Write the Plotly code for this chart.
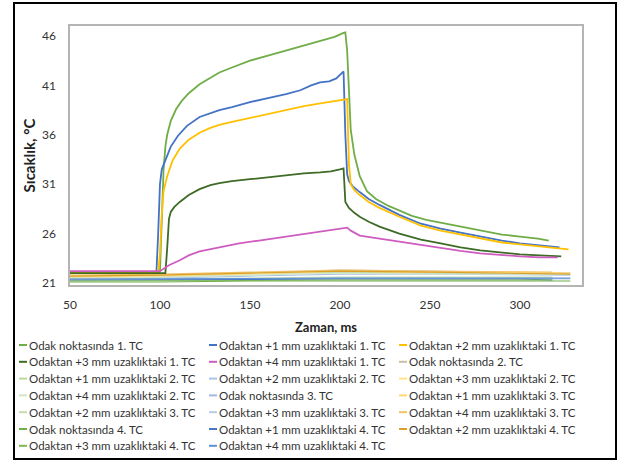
import plotly.graph_objects as go

# ---------------- data ----------------
names = [
    "Odak noktasında 1. TC", "Odaktan +1 mm uzaklıktaki 1. TC", "Odaktan +2 mm uzaklıktaki 1. TC",
    "Odaktan +3 mm uzaklıktaki 1. TC", "Odaktan +4 mm uzaklıktaki 1. TC", "Odak noktasında 2. TC",
    "Odaktan +1 mm uzaklıktaki 2. TC", "Odaktan +2 mm uzaklıktaki 2. TC", "Odaktan +3 mm uzaklıktaki 2. TC",
    "Odaktan +4 mm uzaklıktaki 2. TC", "Odak noktasında 3. TC", "Odaktan +1 mm uzaklıktaki 3. TC",
    "Odaktan +2 mm uzaklıktaki 3. TC", "Odaktan +3 mm uzaklıktaki 3. TC", "Odaktan +4 mm uzaklıktaki 3. TC",
    "Odak noktasında 4. TC", "Odaktan +1 mm uzaklıktaki 4. TC", "Odaktan +2 mm uzaklıktaki 4. TC",
    "Odaktan +3 mm uzaklıktaki 4. TC", "Odaktan +4 mm uzaklıktaki 4. TC",
]

t_odak1 = [50, 99, 100, 101, 102, 103, 104, 106, 109, 112, 116, 122, 128, 133, 140, 150, 160, 170, 180,
           190, 197, 202, 203, 204, 205, 206, 208, 211, 215, 220, 227, 233, 240, 248, 256, 265, 278, 290,
           300, 310, 316]
v_odak1 = [22.0, 22.0, 22.2, 27.5, 32.5, 34.8, 36.0, 37.4, 38.6, 39.4, 40.2, 41.1, 41.8, 42.3, 42.8, 43.5,
           44.0, 44.5, 45.0, 45.5, 45.9, 46.3, 46.35, 44.5, 40.0, 36.5, 34.0, 31.8, 30.3, 29.5, 28.8, 28.3,
           27.8, 27.4, 27.1, 26.8, 26.3, 25.9, 25.7, 25.5, 25.3]

t_p1_1 = [50, 98, 99, 100, 101, 103, 106, 110, 115, 122, 128, 133, 140, 150, 160, 170, 178, 184, 189, 194,
          198, 201, 202, 203, 204, 205, 207, 211, 216, 222, 233, 245, 256, 267, 278, 290, 300, 310, 322]
v_p1_1 = [22.0, 22.0, 26.0, 31.0, 32.5, 33.5, 34.8, 35.9, 36.9, 37.8, 38.2, 38.5, 38.8, 39.3, 39.7, 40.1,
          40.5, 41.0, 41.3, 41.4, 41.7, 42.2, 42.4, 36.0, 32.0, 31.3, 30.8, 30.2, 29.5, 28.9, 27.9, 27.0,
          26.5, 26.1, 25.7, 25.3, 25.0, 24.8, 24.6]

t_p2_1 = [50, 99, 100, 101, 102, 104, 107, 111, 116, 122, 128, 133, 140, 150, 160, 170, 180, 190, 198, 203,
          204, 205, 206, 208, 211, 216, 222, 233, 245, 256, 267, 278, 290, 300, 310, 320, 327]
v_p2_1 = [22.1, 22.1, 24.0, 28.0, 30.3, 31.8, 33.4, 34.6, 35.5, 36.2, 36.7, 37.0, 37.3, 37.7, 38.1, 38.5,
          38.9, 39.2, 39.45, 39.6, 39.6, 33.0, 31.0, 30.4, 29.9, 29.2, 28.6, 27.7, 26.8, 26.3, 25.9, 25.5,
          25.1, 24.9, 24.7, 24.5, 24.4]

t_p3_1 = [50, 103, 104, 105, 106, 108, 111, 116, 122, 128, 133, 140, 150, 160, 170, 180, 189, 195, 200, 202,
          203, 205, 208, 211, 216, 222, 233, 245, 256, 267, 278, 290, 300, 311, 323]
v_p3_1 = [22.0, 22.0, 24.5, 27.5, 28.2, 28.7, 29.2, 29.9, 30.5, 30.9, 31.1, 31.3, 31.5, 31.7, 31.9, 32.1,
          32.2, 32.3, 32.5, 32.6, 29.2, 28.6, 28.1, 27.7, 27.2, 26.7, 26.0, 25.4, 25.0, 24.6, 24.3, 24.1,
          23.9, 23.8, 23.7]

t_p4_1 = [50, 100, 105, 111, 116, 122, 133, 144, 155, 167, 178, 189, 198, 204, 206, 211, 222, 233, 245, 256,
          267, 278, 290, 300, 311, 321]
v_p4_1 = [22.2, 22.2, 22.8, 23.3, 23.8, 24.2, 24.6, 25.0, 25.3, 25.6, 25.9, 26.2, 26.45, 26.6, 26.3, 25.8,
          25.5, 25.2, 24.8, 24.5, 24.25, 24.0, 23.8, 23.7, 23.6, 23.6]

# low-lying thermocouples (2., 3., 4. TC)
t_low_a = [50, 100, 150, 200, 250, 300, 328]
t_low_b = [50, 100, 150, 200, 250, 300, 318]
v_odak2 = [21.6, 21.7, 22.0, 22.3, 22.2, 22.1, 22.0]
v_p1_2 = [21.5, 21.6, 21.9, 22.1, 22.0, 21.9, 21.9]
v_p2_2 = [21.4, 21.5, 21.7, 21.9, 21.9, 21.8, 21.8]
v_p3_2 = [21.6, 21.7, 21.9, 22.2, 22.1, 22.0, 22.0]
v_p4_2 = [21.5, 21.6, 21.8, 22.0, 21.9, 21.9, 21.9]
v_odak3 = [21.3, 21.3, 21.4, 21.5, 21.5, 21.5, 21.5]
v_p1_3 = [21.7, 21.8, 22.0, 22.2, 22.1, 22.1, 22.0]
v_p2_3 = [21.4, 21.4, 21.5, 21.6, 21.6, 21.6, 21.6]
v_p3_3 = [21.3, 21.3, 21.35, 21.4, 21.4, 21.4, 21.4]
v_p4_3 = [21.8, 21.9, 22.1, 22.3, 22.2, 22.1, 22.1]
v_odak4 = [21.1, 21.1, 21.2, 21.2, 21.2, 21.2, 21.2]
v_p1_4 = [21.3, 21.3, 21.35, 21.4, 21.4, 21.4, 21.3]
v_p2_4 = [21.7, 21.8, 22.0, 22.2, 22.1, 22.0, 21.9]
v_p3_4 = [21.2, 21.2, 21.25, 21.3, 21.3, 21.3, 21.3]
v_p4_4 = [21.4, 21.4, 21.45, 21.5, 21.5, 21.5, 21.5]

x_ticks = [50, 100, 150, 200, 250, 300]
y_ticks = [21, 26, 31, 36, 41, 46]

series_x = [t_odak1, t_p1_1, t_p2_1, t_p3_1, t_p4_1,
            t_low_a, t_low_b, t_low_a, t_low_b, t_low_a,
            t_low_b, t_low_a, t_low_b, t_low_a, t_low_b,
            t_low_a, t_low_b, t_low_a, t_low_b, t_low_a]
series_y = [v_odak1, v_p1_1, v_p2_1, v_p3_1, v_p4_1,
            v_odak2, v_p1_2, v_p2_2, v_p3_2, v_p4_2,
            v_odak3, v_p1_3, v_p2_3, v_p3_3, v_p4_3,
            v_odak4, v_p1_4, v_p2_4, v_p3_4, v_p4_4]

colors = ["#70AD47", "#4472C4", "#FFC000", "#3E6B25", "#CF5CC0",
          "#C9BFA8", "#B7D8A0", "#A9C4E8", "#FFE38A", "#D5E5C8",
          "#9FB7E2", "#FFD870", "#C3DDB0", "#B8CBEA", "#F2C26B",
          "#6FAE4A", "#4A78C8", "#D9A02A", "#7CB655", "#5B8FD6"]
widths = [1.8] * 5 + [1.1] * 15

# ---------------- figure ----------------
W, H = 624, 462
L, R, T, B = 70, 582, 26, 285


def xp(px):
    return (px - L) / (R - L)


def yp(py):
    return (B - py) / (B - T)


fig = go.Figure()
order = list(range(5, 20)) + list(range(0, 5))
for i in order:
    fig.add_trace(go.Scatter(x=series_x[i], y=series_y[i], mode="lines", name=names[i],
                             line=dict(color=colors[i], width=widths[i]), showlegend=False))

shapes = [dict(type="rect", xref="paper", yref="paper", x0=xp(14), x1=xp(616), y0=yp(459), y1=yp(3),
               line=dict(color="black", width=2), layer="below")]
annotations = []
col_x = [19, 209, 399]
row0, row_dy = 345, 16.8
for k, nm in enumerate(names):
    r, c = divmod(k, 3)
    y = row0 + r * row_dy
    shapes.append(dict(type="line", xref="paper", yref="paper", x0=xp(col_x[c]), x1=xp(col_x[c] + 8),
                       y0=yp(y), y1=yp(y), line=dict(color=colors[k], width=2)))
    annotations.append(dict(xref="paper", yref="paper", x=xp(col_x[c] + 8), y=yp(y), text=nm,
                            showarrow=False, xanchor="left", yanchor="middle",
                            font=dict(family="Lato", size=11.5, color="#333333")))

axis_common = dict(showgrid=False, zeroline=False, showline=True, mirror=True, linecolor="#B4B4B4",
                   linewidth=1.5, ticks="", tickfont=dict(family="Lato", size=12, color="#333333"))

fig.update_layout(
    width=W, height=H, margin=dict(l=L, r=W - R, t=T, b=H - B, autoexpand=False),
    paper_bgcolor="white", plot_bgcolor="white", showlegend=False,
    xaxis=dict(range=[50, 334.5], tickvals=x_ticks, ticklabelstandoff=8,
               title=dict(text="<b>Zaman, ms</b>", standoff=12,
                          font=dict(family="Lato", size=13, color="#222222")), **axis_common),
    yaxis=dict(range=[20.8, 47.0], tickvals=y_ticks, ticklabelstandoff=10,
               title=dict(text="<b>Sıcaklık, °C</b>", standoff=3,
                          font=dict(family="Lato", size=15, color="#222222")), **axis_common),
    shapes=shapes, annotations=annotations,
)

fig.write_html("out.html", config={"displayModeBar": False},
               post_script="document.body.style.margin='0px';")
